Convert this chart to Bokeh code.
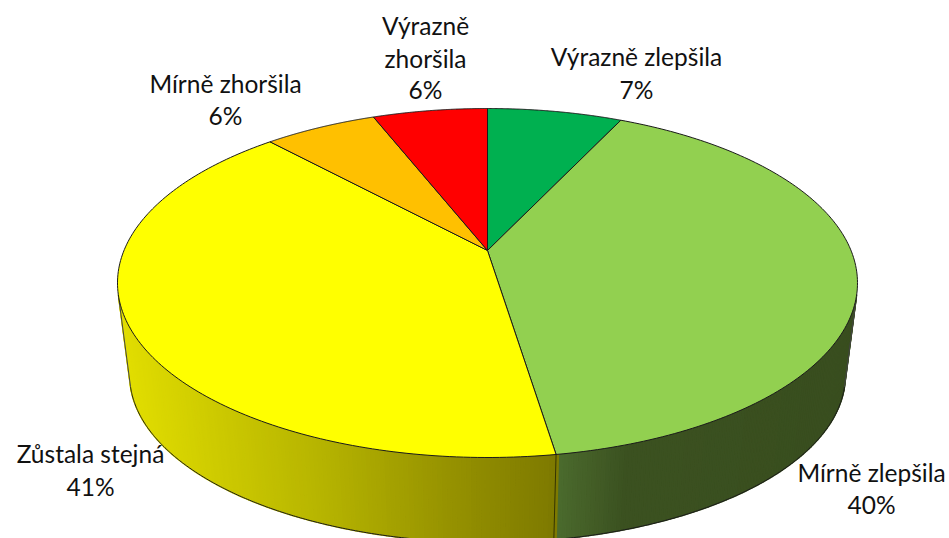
import numpy as np
from bokeh.plotting import figure
from bokeh.models import Range1d
from bokeh.core.properties import value
from bokeh.embed import file_html
from bokeh.resources import INLINE

# data
categories = ["Výrazně zlepšila", "Mírně zlepšila", "Zůstala stejná", "Mírně zhoršila", "Výrazně zhoršila"]
shares = [7.05, 40.49, 40.56, 5.9, 6.0]
top_colors = ["#00B050", "#92D050", "#FFFF00", "#FFC000", "#FF0000"]

# label placement: lines of each label, centre x, y of each line
label_lines = [["Výrazně zlepšila"], ["Mírně zlepšila"], ["Zůstala stejná"], ["Mírně zhoršila"], ["Výrazně", "zhoršila"]]
label_x = [636, 871, 90, 225, 425]
label_y = [[56, 89], [472, 504], [453, 486], [83, 115], [25, 58, 89]]

# pie geometry in reference pixels
CX, APEX_Y, TOP_BACK, TOP_FRONT, RX = 487.0, 250.0, 108.0, 457.0, 370.0
LOW_CY, LOW_SX, LOW_SY = 375.0, 0.967, 0.957
c = (TOP_BACK + TOP_FRONT - 2 * APEX_Y) / (TOP_FRONT - TOP_BACK)
a = TOP_BACK * (1 + c) - APEX_Y
A = RX * np.sqrt(1 - c * c)
TOP_CY = (TOP_BACK + TOP_FRONT) / 2


def top_xy(theta):
    u, v = np.sin(theta), np.cos(theta)
    d = 1 + c * v
    return CX + A * u / d, (a * v + APEX_Y) / d


def low_xy(theta):
    x, y = top_xy(theta)
    return CX + LOW_SX * (x - CX), LOW_CY + LOW_SY * (y - TOP_CY)


def lerp_color(x, stops):
    xs = [s[0] for s in stops]
    r = np.interp(x, xs, [s[1][0] for s in stops])
    g = np.interp(x, xs, [s[1][1] for s in stops])
    b = np.interp(x, xs, [s[1][2] for s in stops])
    return "#%02x%02x%02x" % (int(r), int(g), int(b))


yellow_stops = [(119, (226, 222, 0)), (215, (205, 202, 0)), (320, (182, 180, 0)), (450, (150, 146, 0)), (555, (126, 122, 0))]
green_stops = [(555, (76, 108, 46)), (625, (60, 82, 33)), (860, (57, 78, 31))]

p = figure(width=949, height=538, x_range=Range1d(0, 949), y_range=Range1d(538, 0),
           output_backend="svg", toolbar_location=None, min_border=0)
p.axis.visible = False
p.grid.visible = False
p.outline_line_color = None
p.background_fill_color = "white"
p.border_fill_color = "white"

total = sum(shares)
bounds = np.cumsum([0] + shares) / total * 2 * np.pi

# side wall: thin quads along the visible rim, painted so each overlaps the next
fine = np.radians(np.arange(60, 301, 0.5))
tx, ty = top_xy(fine)
lx, ly = low_xy(fine)
dtx, dty = np.gradient(tx), np.gradient(ty)
cross = (lx - tx) * dty - (ly - ty) * dtx
vis = np.where(cross * cross[len(cross) // 2] > 0)[0]
th0, th1 = fine[vis[0]], fine[vis[-1]]
qx, qy, qc = [], [], []
ths = np.linspace(th0, th1, 240)
for t0, t1 in zip(ths[:-1], ths[1:]):
    x0, y0 = top_xy(t0)
    x1, y1 = top_xy(t1)
    x2, y2 = low_xy(t1)
    x3, y3 = low_xy(t0)
    qx.append([x0, x1, x2, x3])
    qy.append([y0, y1, y2, y3])
    tm = (t0 + t1) / 2
    xm = (x0 + x1) / 2
    qc.append(lerp_color(xm, green_stops) if tm < bounds[2] else lerp_color(xm, yellow_stops))
p.patches(qx, qy, fill_color=qc, line_color=qc, line_width=1.5)

# side outlines
edge = np.linspace(th0, th1, 400)
ex, ey = low_xy(edge)
p.line(ex, ey, line_color="#1a1a1a", line_width=1)
for t in (th0, th1):
    xt, yt = top_xy(t)
    xl, yl = low_xy(t)
    p.line([xt, xl], [yt, yl], line_color="#444444", line_width=1)
xt, yt = top_xy(bounds[2])
xl, yl = low_xy(bounds[2])
p.line([xt, xl], [yt, yl], line_color="#333300", line_width=1)

# top face wedges
wx, wy = [], []
for b0, b1 in zip(bounds[:-1], bounds[1:]):
    t = np.linspace(b0, b1, 160)
    x, y = top_xy(t)
    wx.append([CX] + list(x))
    wy.append([APEX_Y] + list(y))
p.patches(wx, wy, fill_color=top_colors, line_color="#1a1a1a", line_width=1)

# labels
tx_, ty_, tt_ = [], [], []
for lines, x, ys, share in zip(label_lines, label_x, label_y, shares):
    rows = lines + ["%d%%" % round(share)]
    for row, y in zip(rows, ys):
        tx_.append(x)
        ty_.append(y)
        tt_.append(row)
p.text(x=tx_, y=ty_, text=tt_, text_font=value("Lato"), text_font_size="24.5px",
       text_align="center", text_baseline="middle", text_color="#111111")

open("out.html", "w").write(file_html(p, INLINE))
